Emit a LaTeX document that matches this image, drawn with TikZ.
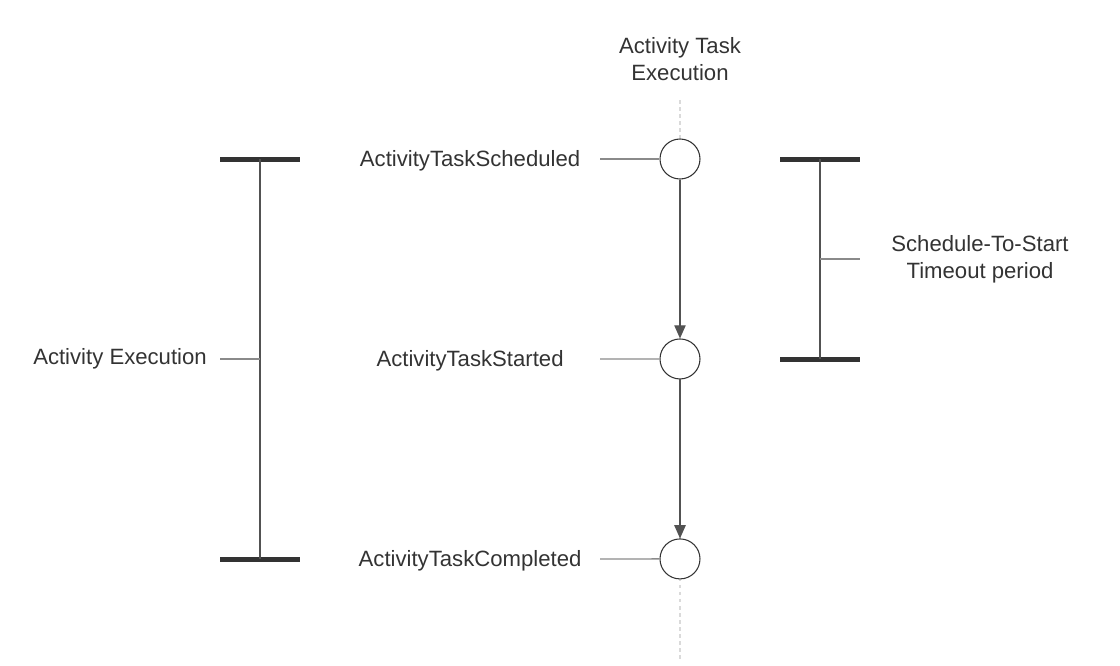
\documentclass[tikz,border=0pt]{standalone}
\usepackage{fontspec}
\setmainfont{Liberation Sans}
\usetikzlibrary{positioning, arrows.meta}
\definecolor{ink}{HTML}{333333}
\definecolor{linegray}{HTML}{8A8A8A}
\definecolor{guidegray}{HTML}{DADADA}

\begin{document}
\begin{tikzpicture}[x=0.02cm, y=-0.02cm, >={Triangle[length=7.5pt, width=6.5pt]}, node distance=4cm,
    font=\fontsize{12.6}{15.3}\selectfont, text=ink,
    event/.style={circle, draw=ink, fill=white, minimum size=0.8cm, inner sep=0pt, line width=0.6pt},
    caption/.style={yshift=-1.2pt},
    bar/.style={draw=ink, line width=2.8pt},
    stem/.style={draw=ink!85, line width=0.6pt},
    wire/.style={draw=linegray, line width=0.8pt},
    guide/.style={draw=guidegray, line width=0.6pt, dash pattern=on 2pt off 2pt}]
    \useasboundingbox (0,0) rectangle (1120,666);

    % Life line of the task
    \coordinate (gtop) at (680,100);
    \coordinate (gbot) at (680,662);
    \draw[guide] (gtop) -- (gbot);
    \node[caption, align=center] (title) at (680,57) {Activity Task\\Execution};

    % Events on the task
    \node[event] (sched) at (680,159) {};
    \node[event] (start) [below of=sched] {};
    \node[event] (done) [below of=start] {};

    \node[caption] (schedlbl) [left of=sched, node distance=4.2cm] {ActivityTaskScheduled};
    \node[caption] (startlbl) [left of=start, node distance=4.2cm] {ActivityTaskStarted};
    \node[caption] (donelbl) [left of=done, node distance=4.2cm] {ActivityTaskCompleted};

    \coordinate (schedtick) at (600,159);
    \coordinate (starttick) at (600,359);
    \coordinate (donetick) at (600,559);
    \draw[wire] (schedtick) -- (sched);
    \draw[wire] (starttick) -- (start);
    \draw[wire] (donetick) -- (done);

    \draw[->, stem] (sched) -- (start);
    \draw[->, stem] (start) -- (done);

    % Activity Execution span
    \draw[bar] (220,159.5) -- (300,159.5);
    \draw[bar] (220,559.5) -- (300,559.5);
    \draw[stem] (260,159) -- (260,559);
    \node[caption] (actexec) at (120,357) {Activity Execution};
    \coordinate (acttick) at (220,359);
    \coordinate (actmid) at (260,359);
    \draw[wire] (acttick) -- (actmid);

    % Schedule-To-Start span
    \draw[bar] (780,159.5) -- (860,159.5);
    \draw[bar] (780,359.5) -- (860,359.5);
    \draw[stem] (820,159) -- (820,359);
    \node[caption, align=center] (timeout) at (980,257) {Schedule-To-Start\\Timeout period};
    \coordinate (timemid) at (820,259);
    \coordinate (timetick) at (860,259);
    \draw[wire] (timemid) -- (timetick);
\end{tikzpicture}
\end{document}
